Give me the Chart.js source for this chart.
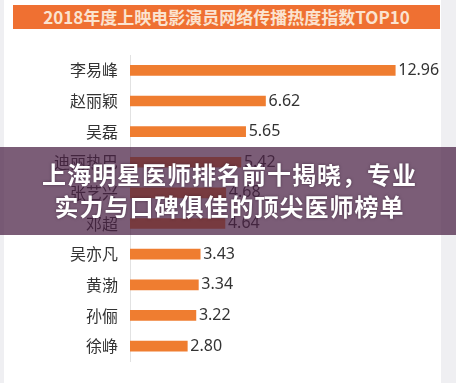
<!DOCTYPE html>
<html><head><meta charset="utf-8">
<script src="https://cdn.jsdelivr.net/npm/chart.js@4"></script>
<style>
html,body{margin:0;padding:0;background:#efeff2;}
#wrap{position:relative;width:456px;height:383px;overflow:hidden;}
#card{position:absolute;left:4px;top:0;width:437px;height:383px;background:#fff;}
#title{position:absolute;left:13px;top:5px;width:427px;height:24px;background:#ef7032;color:#fbe3cf;font:bold 17px "Noto Sans CJK SC",sans-serif;line-height:24px;text-align:center;letter-spacing:0px;}
#cv{position:absolute;left:0;top:0;}
#band{position:absolute;left:0;top:147px;width:456px;height:88px;background:rgba(74,33,68,0.73);}
#band div{position:absolute;left:0;width:456px;padding-left:3px;box-sizing:border-box;text-align:center;color:#fff;font:bold 24px "Noto Sans CJK SC",sans-serif;letter-spacing:1px;text-shadow:0 0 3px rgba(40,20,40,0.6);white-space:nowrap;}
</style></head>
<body>
<div id="wrap">
<div id="card"></div>
<div id="title">2018年度上映电影演员网络传播热度指数TOP10</div>
<canvas id="cv" width="456" height="383"></canvas>
<div id="band"><div id="l1" style="top:12px;line-height:30px;">上海明星医师排名前十揭晓，专业</div><div id="l2" style="top:44px;line-height:30px;">实力与口碑俱佳的顶尖医师榜单</div></div>
</div>
<script>
const categories = ["李易峰","赵丽颖","吴磊","迪丽热巴","张艺兴","邓超","吴亦凡","黄渤","孙俪","徐峥"];
const values = [12.96,6.62,5.65,5.42,4.68,4.64,3.43,3.34,3.22,2.80];

const valueLabels = {
  id:'valueLabels',
  afterDatasetsDraw(chart){
    const ctx = chart.ctx;
    const meta = chart.getDatasetMeta(0);
    ctx.save();
    ctx.font = '16px "Noto Sans", sans-serif';
    ctx.fillStyle = '#333';
    ctx.textBaseline = 'middle';
    ctx.textAlign = 'left';
    meta.data.forEach((bar,i)=>{
      ctx.fillText(values[i].toFixed(2), bar.x + 3, bar.y);
    });
    ctx.restore();
  }
};

new Chart(document.getElementById('cv'), {
  type:'bar',
  data:{labels:categories,datasets:[{data:values,backgroundColor:'#ef7d30',barThickness:10,borderWidth:0}]},
  options:{
    indexAxis:'y',
    responsive:false,
    animation:false,
    devicePixelRatio:1,
    layout:{padding:{top:55,bottom:18,left:0,right:19}},
    plugins:{legend:{display:false},tooltip:{enabled:false},title:{display:false}},
    scales:{
      x:{display:false,min:0,max:15},
      y:{
        grid:{display:false,drawTicks:false},
        border:{display:true,color:'#e2e2e2',width:1},
        ticks:{color:'#333',font:{family:'"Noto Sans CJK SC", sans-serif',size:16},padding:12},
        afterFit(scale){scale.width=130;}
      }
    }
  },
  plugins:[valueLabels]
});
</script>
</body></html>
